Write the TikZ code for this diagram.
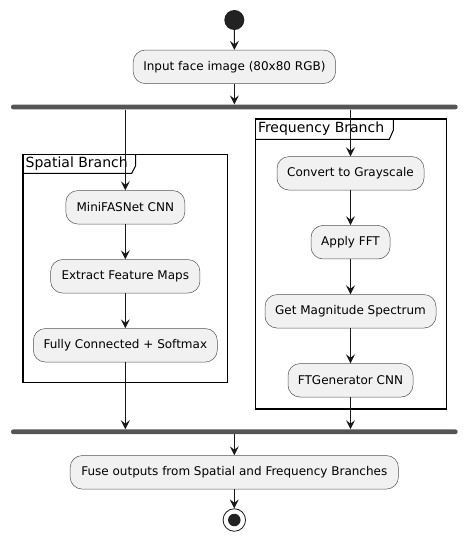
\documentclass[tikz,border=0pt]{standalone}
\usepackage{fontspec}
\setmainfont{DejaVu Sans}
\usetikzlibrary{arrows.meta}
\definecolor{actfill}{HTML}{F1F1F1}
\definecolor{actline}{HTML}{181818}
\definecolor{barcol}{HTML}{555555}
\definecolor{dotcol}{HTML}{222222}
\begin{document}
\begin{tikzpicture}[x=1pt,y=-1pt,
  act/.style={draw=actline!75, line width=0.5pt, fill=actfill, rounded corners=12pt,
    font=\fontsize{12}{14}\selectfont, inner sep=0pt, minimum height=33.5pt, align=center},
  flow/.style={draw=actline, line width=0.9pt, -{Stealth[length=9pt,width=9pt,inset=3.5pt]}},
  barstyle/.style={fill=barcol, draw=none, rounded corners=2.3pt, inner sep=0pt, minimum height=4.8pt},
  frame/.style={draw=black, line width=1.3pt},
  framelabel/.style={font=\fontsize{14}{16}\selectfont, inner sep=0pt, anchor=west}
]
\useasboundingbox (0,0) rectangle (468,541);

% frames
\draw[frame] (23,154.3) rectangle (227.7,382.7);
\draw[line width=1pt] (23,173.3) -- (131.7,173.3) -- (135.7,165.7) -- (135.7,154.3);
\node[framelabel] (lspatial) at (25.5,164) {Spatial Branch};

\draw[frame] (255.3,119) rectangle (446.7,409);
\draw[line width=1pt] (255.3,139.3) -- (389.3,139.3) -- (393.3,130.3) -- (393.3,119);
\node[framelabel] (lfreq) at (257.8,129) {Frequency Branch};

% start
\node[circle, fill=dotcol, minimum size=20pt, inner sep=0pt] (start) at (234.3,20) {};

\node[act, minimum width=202.4pt] (input) at (234.4,66.8) {Input face image (80x80 RGB)};

\node[barstyle, minimum width=446.7pt] (fork) at (234.3,107) {};

% left
\node[act, minimum width=119pt] (mini) at (125.3,207.3) {MiniFASNet CNN};
\node[act, minimum width=149.3pt] (extract) at (125.3,276.3) {Extract Feature Maps};
\node[act, minimum width=184pt] (fully) at (125.3,345.3) {Fully Connected + Softmax};

% right
\node[act, minimum width=147pt] (gray) at (350.5,173.3) {Convert to Grayscale};
\node[act, minimum width=79pt] (fft) at (350.5,242.2) {Apply FFT};
\node[act, minimum width=171pt] (mag) at (350.5,311.3) {Get Magnitude Spectrum};
\node[act, minimum width=125pt] (ftg) at (350.5,380.3) {FTGenerator CNN};

\node[barstyle, minimum width=446.7pt] (join) at (234.3,431.8) {};

\node[act, minimum width=328.3pt] (fuse) at (234.3,472.3) {Fuse outputs from Spatial and Frequency Branches};

\node[circle, draw=actline, line width=0.8pt, fill=white, minimum size=22.5pt, inner sep=0pt] (stop) at (234.3,520) {};
\node[circle, fill=dotcol, minimum size=12.5pt, inner sep=0pt] (stopdot) at (stop.center) {};

% connectors
\draw[flow] (start) -- (input);
\draw[flow] (input) -- (input.south |- fork.north);
\draw[flow] (fork.south -| mini.north) -- (mini);
\draw[flow] (mini) -- (extract);
\draw[flow] (extract) -- (fully);
\draw[flow] (fully) -- (fully.south |- join.north);
\draw[flow] (fork.south -| gray.north) -- (gray);
\draw[flow] (gray) -- (fft);
\draw[flow] (fft) -- (mag);
\draw[flow] (mag) -- (ftg);
\draw[flow] (ftg) -- (ftg.south |- join.north);
\draw[flow] (join.south -| fuse.north) -- (fuse);
\draw[flow] (fuse) -- (stop);
\end{tikzpicture}
\end{document}
